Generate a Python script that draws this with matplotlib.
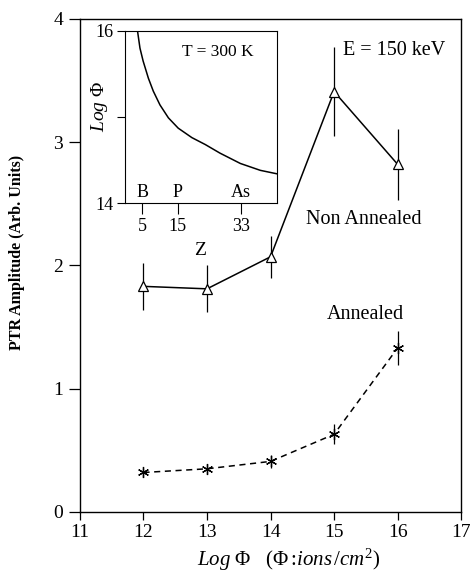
import matplotlib
matplotlib.use("Agg")
import matplotlib.pyplot as plt

plt.rcParams["font.family"] = ["Liberation Serif", "DejaVu Serif"]
plt.rcParams["mathtext.fontset"] = "custom"
plt.rcParams["mathtext.rm"] = "Liberation Serif"
plt.rcParams["mathtext.it"] = "Liberation Serif:italic"

# main chart data
log_phi = [12, 13, 14, 15, 16]
non_annealed = [1.83, 1.81, 2.07, 3.41, 2.82]
non_annealed_err = [0.19, 0.19, 0.17, 0.36, 0.29]
annealed = [0.32, 0.35, 0.41, 0.63, 1.33]
annealed_err = [0.04, 0.04, 0.05, 0.08, 0.14]

# inset: critical dose vs atomic number
inset_z = [3.6, 4.3, 5.2, 6.7, 8.1, 10.0, 12.4, 15.2, 19.1, 22.9, 27.1, 32.9, 38.6, 43.3]
inset_logphi = [16.0, 15.80, 15.65, 15.45, 15.30, 15.14, 14.99, 14.87, 14.76, 14.68,
                14.58, 14.46, 14.38, 14.34]
inset_ticks = [5, 15, 33]
inset_elements = ["B", "P", "As"]

fig = plt.figure(figsize=(4.73, 5.72), dpi=100)
ax = fig.add_axes([0.169, 0.105, 0.806, 0.862])

ax.errorbar(log_phi, non_annealed, yerr=non_annealed_err, color="black", lw=1.1,
            elinewidth=0.9, capsize=0, marker="^", ms=7, mfc="white", mec="black", mew=0.9)
ax.errorbar(log_phi, annealed, yerr=annealed_err, color="black", lw=1.1, ls=(0, (4, 3)),
            elinewidth=0.9, capsize=0, marker=(6, 2, 0), ms=8, mew=0.9)

ax.set_xlim(11, 17)
ax.set_ylim(0, 4)
ax.set_xticks(range(11, 18))
ax.set_yticks(range(0, 5))
ax.tick_params(axis="x", direction="out", length=6, width=0.9, labelsize=14, pad=3, top=False)
ax.tick_params(axis="y", direction="out", length=8, width=0.9, labelsize=14, pad=4, right=False)
for s in ax.spines.values():
    s.set_linewidth(1.0)

ax.text(15.14, 3.74, "E = 150 keV", fontsize=14.5, va="center")
ax.text(14.56, 2.37, "Non Annealed", fontsize=14.5, va="center")
ax.text(14.89, 1.60, "Annealed", fontsize=14.5, va="center")
ax.text(12.89, 2.12, "Z", fontsize=14, va="center", ha="center")

ax.set_ylabel("PTR Amplitude (Arb. Units)", fontsize=11.5, fontweight="bold")
ax.yaxis.set_label_coords(-0.144, 0.526)
fig.text(289 / 473, 0.022,
         r"$Log\ \mathrm{\Phi}\ \ \ \mathrm{(\Phi}{:}\!ions\,/cm^{\mathrm{2}}\mathrm{)}$",
         fontsize=15, ha="center", va="center")

# inset
ins = fig.add_axes([0.264, 0.645, 0.322, 0.301])
ins.plot(inset_z, inset_logphi, color="black", lw=1.1)
ins.set_xlim(0, 43.4)
ins.set_ylim(14, 16)
ins.set_yticks([14, 15, 16])
ins.set_yticklabels(["14", "", "16"])
ins.set_xticks(inset_ticks)
ins.tick_params(axis="x", direction="out", length=8, width=0.8, labelsize=13, pad=3)
ins.tick_params(axis="y", direction="out", length=6, width=0.8, labelsize=13, pad=2)
for z, el in zip(inset_ticks, inset_elements):
    ins.text(z, 14.02, el, fontsize=13, ha="center", va="bottom")
ins.text(26.6, 15.76, "T = 300 K", fontsize=12.5, ha="center", va="center")
ins.set_ylabel(r"$Log\ \mathrm{\Phi}$", fontsize=14)
ins.yaxis.set_label_coords(-0.1, 0.56)

fig.savefig("out.png", dpi=100)
